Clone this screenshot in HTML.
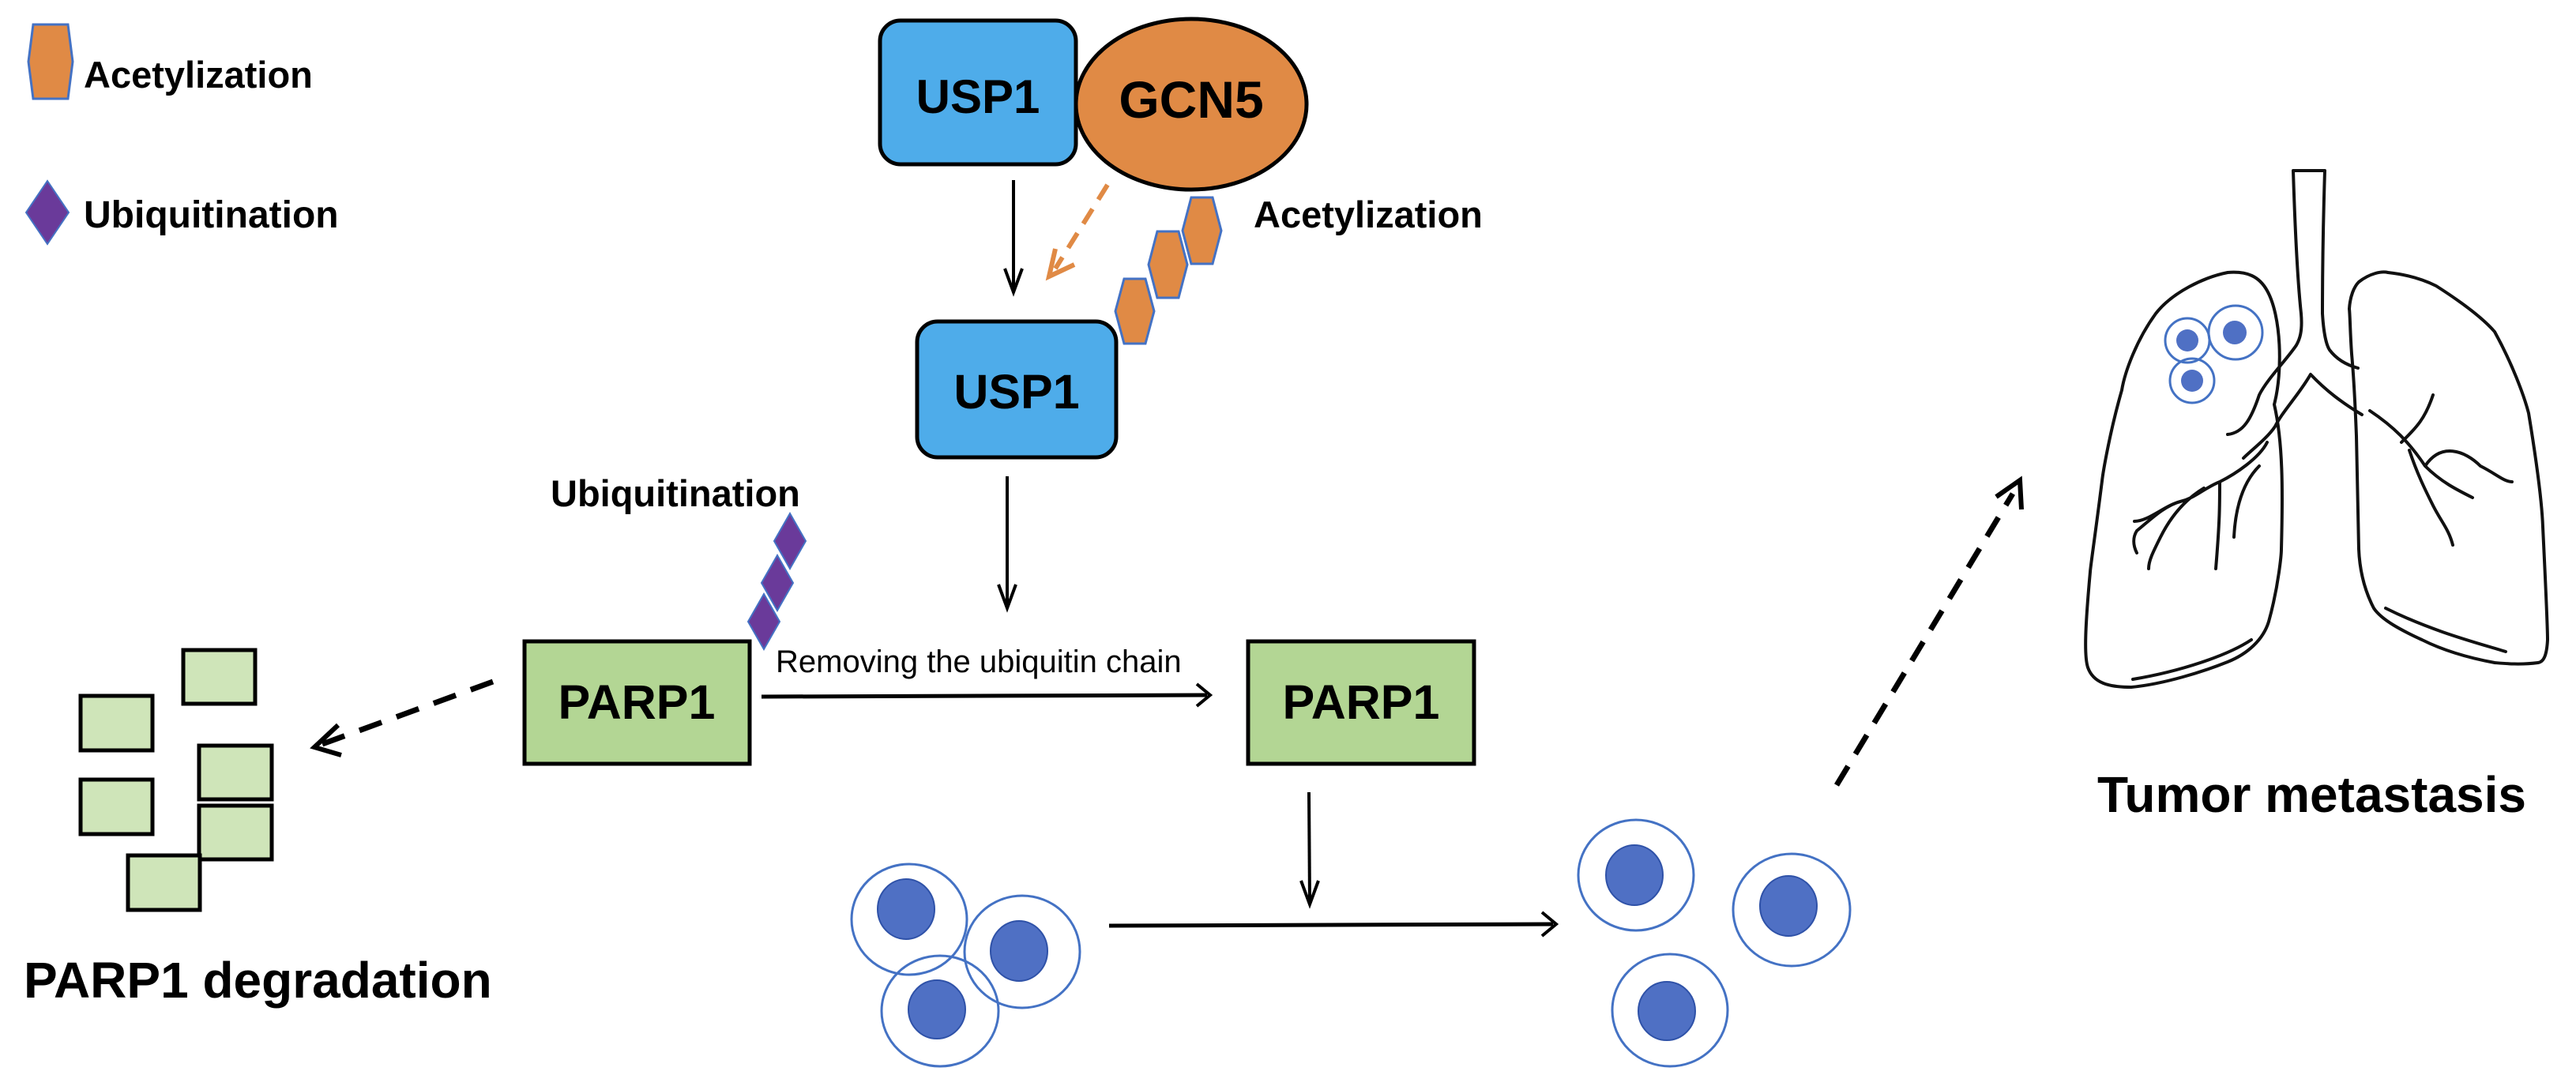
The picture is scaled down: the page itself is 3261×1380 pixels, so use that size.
<!DOCTYPE html>
<html><head><meta charset="utf-8"><style>
html,body{margin:0;padding:0;background:#fff;}
svg{display:block;}
text{font-family:"Liberation Sans",Arial,sans-serif;}
</style></head><body>
<svg width="3261" height="1380" viewBox="0 0 3261 1380" xmlns="http://www.w3.org/2000/svg">
<rect width="3261" height="1380" fill="#fff"/>

<!-- Legend -->
<polygon points="42,31 86,31 92,78 86,125 42,125 36,78" fill="#e08a45" stroke="#4472c4" stroke-width="3"/>
<text x="106" y="111" font-size="47" font-weight="bold">Acetylization</text>
<polygon points="60,229 87,269 60,309 33,269" fill="#6a3a9a" stroke="#4472c4" stroke-width="2"/>
<text x="106" y="288" font-size="48" font-weight="bold">Ubiquitination</text>

<!-- USP1 + GCN5 -->
<ellipse cx="1508" cy="132" rx="146" ry="108" fill="#e08a45" stroke="#000" stroke-width="5"/>
<rect x="1114" y="26" width="248" height="182" rx="26" fill="#4eacea" stroke="#000" stroke-width="5"/>
<text x="1238" y="143" font-size="60" font-weight="bold" text-anchor="middle">USP1</text>
<text x="1508" y="149" font-size="66" font-weight="bold" text-anchor="middle">GCN5</text>

<!-- arrows top -->
<line x1="1283" y1="228" x2="1283" y2="368" stroke="#000" stroke-width="4"/>
<polyline points="1272,340 1283,370 1294,340" fill="none" stroke="#000" stroke-width="4"/>
<line x1="1402" y1="234" x2="1336" y2="340" stroke="#e08a45" stroke-width="6" stroke-dasharray="22,14"/>
<polyline points="1336,315 1328,350 1360,335" fill="none" stroke="#e08a45" stroke-width="6"/>

<!-- hexagons -->
<polygon points="1508,250 1535,250 1546,292 1535,334 1508,334 1497,292" fill="#e08a45" stroke="#4472c4" stroke-width="3"/>
<polygon points="1465,293 1492,293 1503,335 1492,377 1465,377 1454,335" fill="#e08a45" stroke="#4472c4" stroke-width="3"/>
<polygon points="1423,353 1450,353 1461,394 1450,435 1423,435 1412,394" fill="#e08a45" stroke="#4472c4" stroke-width="3"/>
<text x="1587" y="288" font-size="47" font-weight="bold">Acetylization</text>

<!-- USP1 second -->
<rect x="1161" y="407" width="252" height="172" rx="26" fill="#4eacea" stroke="#000" stroke-width="5"/>
<text x="1287" y="517" font-size="61" font-weight="bold" text-anchor="middle">USP1</text>

<line x1="1275" y1="603" x2="1275" y2="768" stroke="#000" stroke-width="4"/>
<polyline points="1264,740 1275,770 1286,740" fill="none" stroke="#000" stroke-width="4"/>

<!-- Ubiquitination chain -->
<text x="697" y="641" font-size="47" font-weight="bold">Ubiquitination</text>
<polygon points="1000,650 1020,685 1000,720 980,685" fill="#6a3a9a" stroke="#4472c4" stroke-width="2"/>
<polygon points="984,703 1004,738 984,773 964,738" fill="#6a3a9a" stroke="#4472c4" stroke-width="2"/>
<polygon points="967,752 987,787 967,822 947,787" fill="#6a3a9a" stroke="#4472c4" stroke-width="2"/>

<!-- PARP1 boxes -->
<rect x="664" y="812" width="285" height="155" fill="#b3d694" stroke="#000" stroke-width="5"/>
<text x="806" y="910" font-size="61" font-weight="bold" text-anchor="middle">PARP1</text>
<rect x="1580" y="812" width="286" height="155" fill="#b3d694" stroke="#000" stroke-width="5"/>
<text x="1723" y="910" font-size="61" font-weight="bold" text-anchor="middle">PARP1</text>

<text x="982" y="851" font-size="40">Removing the ubiquitin chain</text>
<line x1="964" y1="882" x2="1528" y2="880" stroke="#000" stroke-width="5"/>
<polyline points="1515,866 1532,880 1515,894" fill="none" stroke="#000" stroke-width="4"/>

<!-- dashed to degradation -->
<line x1="624" y1="863" x2="408" y2="942" stroke="#000" stroke-width="7" stroke-dasharray="30,20"/>
<polyline points="428,918 398,946 432,956" fill="none" stroke="#000" stroke-width="6"/>

<!-- fragments -->
<g fill="#cfe5b9" stroke="#000" stroke-width="5">
<rect x="232" y="823" width="91" height="68"/>
<rect x="102" y="881" width="91" height="69"/>
<rect x="252" y="944" width="92" height="68"/>
<rect x="102" y="987" width="91" height="69"/>
<rect x="252" y="1020" width="92" height="68"/>
<rect x="162" y="1083" width="91" height="69"/>
</g>
<text x="30" y="1263" font-size="64" font-weight="bold">PARP1 degradation</text>

<!-- down arrow -->
<line x1="1657" y1="1003" x2="1658" y2="1142" stroke="#000" stroke-width="4"/>
<polyline points="1647,1115 1658,1145 1669,1115" fill="none" stroke="#000" stroke-width="4"/>

<!-- cells -->
<g fill="none" stroke="#4472c4" stroke-width="3">
<ellipse cx="1151" cy="1164" rx="73" ry="70"/>
<ellipse cx="1294" cy="1205" rx="73" ry="71"/>
<ellipse cx="1190" cy="1280" rx="74" ry="70"/>
<ellipse cx="2071" cy="1108" rx="73" ry="70"/>
<ellipse cx="2268" cy="1152" rx="74" ry="71"/>
<ellipse cx="2114" cy="1279" rx="73" ry="71"/>
</g>
<g fill="#4f70c4" stroke="#2f52a8" stroke-width="2">
<ellipse cx="1147" cy="1151" rx="36" ry="38"/>
<ellipse cx="1290" cy="1204" rx="36" ry="38"/>
<ellipse cx="1186" cy="1278" rx="36" ry="37"/>
<ellipse cx="2069" cy="1108" rx="36" ry="38"/>
<ellipse cx="2264" cy="1147" rx="36" ry="38"/>
<ellipse cx="2110" cy="1280" rx="36" ry="37"/>
</g>

<line x1="1404" y1="1172" x2="1966" y2="1170" stroke="#000" stroke-width="5"/>
<polyline points="1952,1155 1970,1170 1952,1185" fill="none" stroke="#000" stroke-width="4"/>

<!-- dashed up arrow -->
<line x1="2325" y1="994" x2="2548" y2="625" stroke="#000" stroke-width="7" stroke-dasharray="28,18"/>
<polyline points="2527,629 2557,608 2559,645" fill="none" stroke="#000" stroke-width="6"/>

<!-- lungs -->
<g fill="none" stroke="#111" stroke-width="4" stroke-linejoin="round" stroke-linecap="round">
<path d="M2879,512 C2890,470 2888,400 2870,368 C2860,350 2845,343 2820,345 C2790,351 2750,370 2729,397 C2705,430 2690,470 2686,494 C2670,550 2662,600 2661,609 C2652,680 2646,720 2646,724 C2640,790 2638,830 2643,845 C2650,865 2670,870 2698,870 C2740,866 2790,850 2820,838 C2845,828 2865,810 2872,787 C2885,740 2888,700 2888,695 C2890,620 2890,560 2879,512 Z"/>
<path d="M2986,357 C3000,346 3015,343 3023,345 C3050,348 3070,355 3084,362 C3120,385 3145,405 3158,420 C3180,460 3195,500 3201,523 C3212,590 3218,640 3219,667 C3222,730 3225,790 3225,810 C3224,830 3220,838 3213,839 C3190,842 3170,840 3158,839 C3120,832 3090,822 3066,810 C3040,798 3015,785 3005,770 C2992,745 2987,720 2986,695 C2985,640 2984,590 2983,552 C2981,500 2979,470 2977,448 C2975,420 2975,400 2974,391 C2975,375 2980,363 2986,357 Z"/>
<path d="M2903,216 L2943,216 M2903,216 C2905,280 2908,350 2913,397 C2915,420 2911,430 2907,437 C2895,455 2870,480 2860,500 C2850,530 2840,548 2820,550 M2943,216 C2941,280 2940,350 2940,397 C2942,430 2947,440 2949,443 C2958,455 2970,462 2985,466"/>
<path d="M2925,474 C2910,500 2890,520 2880,540 C2870,555 2850,570 2840,580 M2925,474 C2945,495 2965,510 2990,525"/>
<path d="M2870,560 C2860,580 2830,600 2810,610 C2790,618 2780,630 2760,635 C2740,640 2720,660 2702,660 M2790,618 C2770,630 2750,650 2735,680 C2725,700 2720,710 2720,720 M2810,610 C2810,640 2810,660 2805,720 M2860,590 C2840,610 2830,640 2828,680 M2760,635 C2740,640 2720,660 2705,672 C2700,680 2700,690 2705,700"/>
<path d="M3000,520 C3030,540 3050,560 3070,590 C3090,610 3110,620 3130,630 M3040,560 C3060,540 3070,530 3080,500 M3050,570 C3060,600 3070,620 3080,640 C3090,660 3100,670 3105,690 M3070,590 C3090,560 3120,570 3140,590 M3140,590 C3160,600 3170,610 3180,610 M2700,860 C2760,850 2820,830 2850,810 M3020,770 C3080,800 3140,815 3172,825"/>
</g>
<g>
<circle cx="2769" cy="431" r="28" fill="none" stroke="#4472c4" stroke-width="3"/>
<circle cx="2830" cy="421" r="34" fill="none" stroke="#4472c4" stroke-width="3"/>
<circle cx="2775" cy="482" r="28" fill="none" stroke="#4472c4" stroke-width="3"/>
<circle cx="2769" cy="431" r="14" fill="#4f70c4"/>
<circle cx="2829" cy="421" r="15" fill="#4f70c4"/>
<circle cx="2775" cy="482" r="14" fill="#4f70c4"/>
</g>
<text x="2655" y="1028" font-size="64" font-weight="bold">Tumor metastasis</text>
</svg>
</body></html>
